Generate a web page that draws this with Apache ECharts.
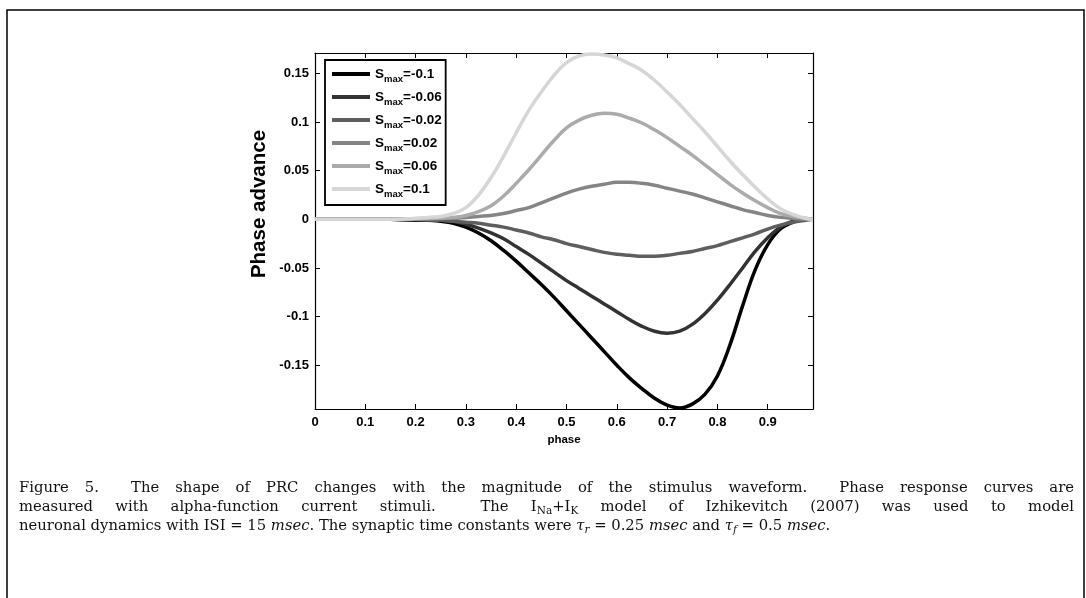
<!DOCTYPE html>
<html><head><meta charset="utf-8">
<script src="https://cdn.jsdelivr.net/npm/echarts@6/dist/echarts.min.js"></script>
<style>html,body{margin:0;padding:0;background:#fff;}#c{width:1086px;height:598px;}</style>
</head><body><div id="c"></div>
<script>
const phase  = [0,0.05,0.1,0.15,0.2,0.225,0.25,0.275,0.3,0.325,0.35,0.375,0.4,0.425,0.45,0.475,0.5,0.525,0.55,0.575,0.6,0.625,0.65,0.675,0.7,0.725,0.75,0.775,0.8,0.825,0.85,0.875,0.9,0.925,0.95,0.975,0.99];
const sNeg10 = [0,0,0,0,-0.001,-0.001,-0.002,-0.004,-0.008,-0.014,-0.022,-0.032,-0.043,-0.055,-0.067,-0.080,-0.094,-0.108,-0.122,-0.136,-0.150,-0.163,-0.174,-0.184,-0.191,-0.194,-0.190,-0.180,-0.161,-0.129,-0.089,-0.052,-0.026,-0.010,-0.003,0,0];
const sNeg06 = [0,0,0,0,-0.0005,-0.001,-0.001,-0.002,-0.005,-0.009,-0.014,-0.020,-0.028,-0.036,-0.045,-0.054,-0.063,-0.071,-0.079,-0.087,-0.095,-0.103,-0.110,-0.115,-0.117,-0.115,-0.108,-0.097,-0.083,-0.067,-0.050,-0.033,-0.019,-0.008,-0.002,0,0];
const sNeg02 = [0,0,0,0,0,-0.0005,-0.001,-0.002,-0.003,-0.004,-0.006,-0.008,-0.011,-0.014,-0.018,-0.021,-0.025,-0.028,-0.031,-0.034,-0.036,-0.037,-0.038,-0.038,-0.037,-0.035,-0.033,-0.030,-0.027,-0.023,-0.019,-0.015,-0.010,-0.006,-0.003,-0.001,0];
const sPos02 = [0,0,0,0,0,0,0.001,0.001,0.002,0.003,0.004,0.006,0.009,0.012,0.017,0.022,0.027,0.031,0.034,0.036,0.038,0.038,0.037,0.035,0.032,0.029,0.026,0.022,0.018,0.014,0.010,0.007,0.004,0.002,0.001,0,0];
const sPos06 = [0,0,0,0,0.0005,0.001,0.001,0.002,0.004,0.008,0.014,0.024,0.037,0.051,0.066,0.081,0.094,0.102,0.107,0.109,0.108,0.104,0.099,0.092,0.084,0.075,0.066,0.056,0.046,0.036,0.027,0.019,0.012,0.006,0.003,0.001,0];
const sPos10 = [0,0,0,0,0.001,0.002,0.003,0.006,0.012,0.025,0.043,0.065,0.089,0.112,0.131,0.148,0.161,0.168,0.170,0.169,0.166,0.160,0.153,0.143,0.131,0.118,0.104,0.090,0.075,0.060,0.046,0.033,0.021,0.011,0.005,0.001,0];
const smaxLabels = ['-0.1','-0.06','-0.02','0.02','0.06','0.1'];
const seriesValues = [sNeg10, sNeg06, sNeg02, sPos02, sPos06, sPos10];
const seriesColors = ['#000000','#333333','#5e5e5e','#858585','#ababab','#d6d6d6'];
const xTicks = [0,0.1,0.2,0.3,0.4,0.5,0.6,0.7,0.8,0.9];
const yTicks = [-0.15,-0.1,-0.05,0,0.05,0.1,0.15];
const xLabel = 'phase';
const yLabel = 'Phase advance';
const captionLines = [
  {justify:true, words:['Figure','5.','','The','shape','of','PRC','changes','with','the','magnitude','of','the','stimulus','waveform.','','Phase','response','curves','are']},
  {justify:true, words:['measured','with','alpha-function','current','stimuli.','','The','I{sub|Na}+I{sub|K}','model','of','Izhikevitch','(2007)','was','used','to','model']},
  {justify:false, words:['neuronal','dynamics','with','ISI','=','15','{it|msec}.','The','synaptic','time','constants','were','{it|τ}{itsub|r}','=','0.25','{it|msec}','and','{it|τ}{itsub|f}','=','0.5','{it|msec}.']}
];

const chart = echarts.init(document.getElementById('c'), null, {renderer:'canvas'});
const names = smaxLabels.map(v => 'Smax=' + v);
const AX = '"Liberation Sans", Arial, sans-serif';

const FS = 14.8, SUBFS = 10.5, SERIF = '"DejaVu Serif", serif';
const fonts = {
  n: FS + 'px ' + SERIF,
  it: 'italic ' + FS + 'px ' + SERIF,
  sub: SUBFS + 'px ' + SERIF,
  itsub: 'italic ' + SUBFS + 'px ' + SERIF
};
const cv = document.createElement('canvas').getContext('2d');
function measure(t, f){ cv.font = f; return cv.measureText(t).width; }
function parseTok(tok){
  const segs = []; const re = /\{(\w+)\|([^}]*)\}/g; let last = 0, m;
  while ((m = re.exec(tok))){ if (m.index > last) segs.push({t:tok.slice(last,m.index), s:'n'}); segs.push({t:m[2], s:m[1]}); last = re.lastIndex; }
  if (last < tok.length) segs.push({t:tok.slice(last), s:'n'});
  return segs;
}
const capLeft = 19, capRight = 1074, capTop = [488, 507, 526];
const graphics = [];
captionLines.forEach((line, li) => {
  const toks = line.words.map(w => { const segs = parseTok(w); segs.forEach(s => s.w = measure(s.t, fonts[s.s])); return {segs, w: segs.reduce((a,s)=>a+s.w,0)}; });
  const spaceW = measure(' ', fonts.n);
  const total = toks.reduce((a,t)=>a+t.w,0);
  const gaps = toks.length - 1;
  const gap = line.justify ? (capRight - capLeft - total) / gaps : spaceW;
  let x = capLeft;
  toks.forEach(t => {
    let sx = x;
    t.segs.forEach(s => {
      if (s.t.length) graphics.push({type:'text', x: sx, y: capTop[li] + ((s.s==='sub'||s.s==='itsub') ? 4 : 0), style:{text:s.t, font:fonts[s.s], fill:'#111', verticalAlign:'middle', align:'left'}});
      sx += s.w;
    });
    x += t.w + gap;
  });
});
graphics.push({type:'text', x:259, y:204, rotation:Math.PI/2, style:{text:yLabel, font:'bold 20.5px ' + AX, fill:'#000', align:'center', verticalAlign:'middle'}});
graphics.push({type:'polyline', shape:{points:[[7,598],[7,10],[1084,10],[1084,598]]}, style:{stroke:'#000', lineWidth:1.5, fill:null}});

const option = {
  animation:false,
  backgroundColor:'#fff',
  grid:{left:315, right:273, top:53, bottom:189, containLabel:false},
  xAxis:[
    {type:'value', min:0, max:0.99, position:'bottom',
     axisLine:{show:true, onZero:false, lineStyle:{color:'#000', width:1.2}},
     axisTick:{show:true, inside:true, length:5, customValues:xTicks, lineStyle:{color:'#000'}},
     axisLabel:{customValues:xTicks, color:'#000', fontFamily:AX, fontWeight:'bold', fontSize:13, margin:7, formatter:v=>String(+v.toFixed(2))},
     splitLine:{show:false},
     name:xLabel, nameLocation:'middle', nameGap:24, nameTextStyle:{fontFamily:AX, fontWeight:'bold', fontSize:11.5, color:'#000'}},
    {type:'value', min:0, max:0.99, position:'top',
     axisLine:{show:true, onZero:false, lineStyle:{color:'#000', width:1.2}},
     axisTick:{show:true, inside:true, length:5, customValues:xTicks, lineStyle:{color:'#000'}},
     axisLabel:{show:false}, splitLine:{show:false}}
  ],
  yAxis:[
    {type:'value', min:-0.195, max:0.171, position:'left',
     axisLine:{show:true, onZero:false, lineStyle:{color:'#000', width:1.2}},
     axisTick:{show:true, inside:true, length:5, customValues:yTicks, lineStyle:{color:'#000'}},
     axisLabel:{customValues:yTicks, color:'#000', fontFamily:AX, fontWeight:'bold', fontSize:13, margin:6, formatter:v=>String(+v.toFixed(2))},
     splitLine:{show:false}},
    {type:'value', min:-0.195, max:0.171, position:'right',
     axisLine:{show:true, onZero:false, lineStyle:{color:'#000', width:1.2}},
     axisTick:{show:true, inside:true, length:5, customValues:yTicks, lineStyle:{color:'#000'}},
     axisLabel:{show:false}, splitLine:{show:false}}
  ],
  legend:{
    orient:'vertical', left:325, top:60, data:names,
    icon:'rect', itemWidth:38, itemHeight:4, itemGap:6,
    backgroundColor:'#fff', borderColor:'#000', borderWidth:1.8, borderRadius:0,
    padding:[7,4,6,7],
    formatter: n => '{s|S}{sub|max}{v|' + n.slice(4) + '}',
    textStyle:{fontFamily:AX, fontWeight:'bold', color:'#000',
      rich:{
        s:{fontFamily:AX, fontWeight:'bold', fontSize:13.5, lineHeight:20, verticalAlign:'middle', color:'#000'},
        sub:{fontFamily:AX, fontWeight:'bold', fontSize:9.5, lineHeight:20, verticalAlign:'bottom', color:'#000'},
        v:{fontFamily:AX, fontWeight:'bold', fontSize:13.5, lineHeight:20, verticalAlign:'middle', color:'#000'}
      }}
  },
  series: names.map((n,i)=>({
    name:n, type:'line', xAxisIndex:0, yAxisIndex:0, showSymbol:false, symbol:'none', smooth:0.4,
    color:seriesColors[i], lineStyle:{width:3.5, color:seriesColors[i]},
    data: phase.map((x,j)=>[x, seriesValues[i][j]]), z:2
  })),
  graphic: graphics
};
chart.setOption(option);
</script></body></html>
